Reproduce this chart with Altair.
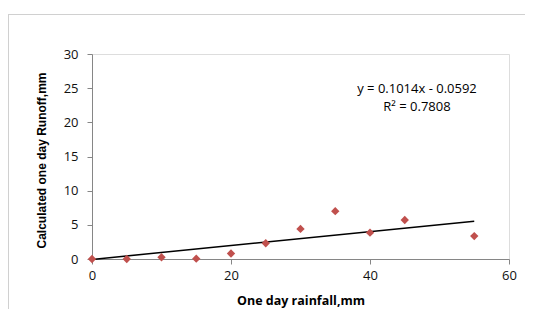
import altair as alt
import pandas as pd

rainfall = [0, 5, 10, 15, 20, 25, 30, 35, 40, 45, 55]
runoff = [0.0, 0.0, 0.25, 0.05, 0.8, 2.3, 4.4, 7.0, 3.85, 5.7, 3.35]
slope = 0.1014
intercept = -0.0592
trend_x = [0, 55]
eq_lines = ["y = 0.1014x - 0.0592", "R² = 0.7808"]

FONT = "Open Sans"

pts = pd.DataFrame({"x": rainfall, "y": runoff})
trend = pd.DataFrame({"x": trend_x, "y": [slope * v + intercept for v in trend_x]})

xs = alt.Scale(domain=[0, 60], nice=False)
ys = alt.Scale(domain=[0, 30], nice=False)

xaxis = alt.Axis(values=[0, 20, 40, 60], title="One day rainfall,mm", grid=False,
                 domainColor="#868686", tickColor="#868686", tickSize=5,
                 labelFont=FONT, labelFontSize=13, labelColor="#111", labelPadding=5,
                 labelFlush=False, labelOverlap=False,
                 titleFont=FONT, titleFontSize=12.5, titleFontWeight="bold", titleColor="#000",
                 titleY=41, titleBaseline="middle")
yaxis = alt.Axis(values=[0, 5, 10, 15, 20, 25, 30], title="Calculated one day Runoff,mm", grid=False,
                 domainColor="#868686", tickColor="#868686", tickSize=5,
                 labelFont=FONT, labelFontSize=13, labelColor="#111", labelPadding=9,
                 labelFlush=False, labelOverlap=False,
                 titleFont="Liberation Sans", titleFontSize=12, titleFontWeight="bold", titleColor="#000",
                 titleX=-51, titleY=106, titleBaseline="middle")

line = alt.Chart(trend).mark_line(color="#000", strokeWidth=1.5).encode(
    x=alt.X("x:Q", scale=xs, axis=xaxis),
    y=alt.Y("y:Q", scale=ys, axis=yaxis),
)

points = alt.Chart(pts).mark_point(shape="diamond", filled=True, size=70, color="#C0504D", opacity=1).encode(
    x=alt.X("x:Q", scale=xs, axis=xaxis),
    y=alt.Y("y:Q", scale=ys, axis=yaxis),
)

one = pd.DataFrame({"a": [0]})
eq1 = alt.Chart(one).mark_text(font=FONT, fontSize=13, color="#000", align="center", baseline="middle",
                               text=eq_lines[0]).encode(x=alt.value(325), y=alt.value(35))
eq2 = alt.Chart(one).mark_text(font=FONT, fontSize=13, color="#000", align="center", baseline="middle",
                               text=eq_lines[1]).encode(x=alt.value(325), y=alt.value(53))

frame_left = alt.Chart(one).mark_rule(color="#d0d0d0", strokeWidth=1).encode(
    x=alt.value(-83.5), y=alt.value(-40), y2=alt.value(275))
frame_top = alt.Chart(one).mark_rule(color="#d0d0d0", strokeWidth=1).encode(
    x=alt.value(-83.5), x2=alt.value(445), y=alt.value(-39.5))

chart = alt.layer(line, points, eq1, eq2, frame_left, frame_top).properties(
    width=417, height=205,
    autosize=alt.AutoSizeParams(type="none"),
    padding={"left": 84, "top": 46, "right": 16, "bottom": 50},
).configure_view(stroke=None).configure(background="white")

chart.save("out.html", embed_options={"renderer": "svg", "actions": False})
